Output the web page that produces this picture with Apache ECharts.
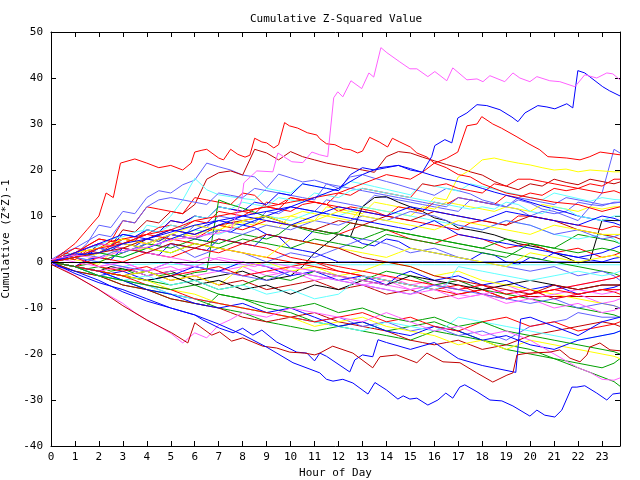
<!DOCTYPE html>
<html>
<head>
<meta charset="utf-8">
<script src="https://cdn.jsdelivr.net/npm/echarts@6/dist/echarts.min.js"></script>
<style>
  html, body { margin: 0; padding: 0; background: #fff; }
  #chart { width: 640px; height: 480px; }
</style>
</head>
<body>
<div id="chart"></div>
<script>
// half hour grid used by most traces (last sample at 23:45)
const halfHours = [0,0.5,1,1.5,2,2.5,3,3.5,4,4.5,5,5.5,6,6.5,7,7.5,8,8.5,9,9.5,10,10.5,11,11.5,12,12.5,13,13.5,14,14.5,15,15.5,16,16.5,17,17.5,18,18.5,19,19.5,20,20.5,21,21.5,22,22.5,23,23.5,23.75]

// colours of the old plotter
const RED = '#ff0000', DRED = '#c00000', BLUE = '#0000ff', SLATE = '#6060ff', MAG = '#ff60ff',
  CYAN = '#60ffff', GREEN = '#00a000', YEL = '#ffff00', BLK = '#000000'

// upper traces
const upSlate1 = [0.5,2,1.5,4, 8,7.5,11,10.5, 14,15.5,15,16.8, 17.8,21.5,20.7,20, 18.9,18.5,16.1,19.1, 18.3,17.4,17.8,17, 16,18.5,19,18.2, 17.5,16.8,16,15.3, 14.5,16,15.5,14.8, 13.5,12.8,12,13.5, 12.8,11.5,11,10, 9,12,15,24.5, 23.7]
const upDred1 = [0,0.5,2,1.5, 4,3.5,7,6.5, 9,8.5,11,10.5, 12.5,18,19.4,19.8, 18.9,24.5,23.7,22.2, 24,22.9,22.2,21.5, 21,20.5,20,19.5, 22.9,24,23.7,22.8, 22,21.2,20.5,19.6, 18.9,17.5,16.5,15.7, 17,16.5,18,17.3, 16.8,18,17.5,17, 17.4]
const upCyan1 = [0,1,0.5,2, 3,2.5,5,4.5, 8,7.5,10,13.5, 18.2,15.7,14.6,14.2, 13.8,13.5,16,15.5, 15,17,16.5,16, 15.5,17.5,17,16.4, 15.8,15.2,14.6,17, 16.5,16,15.4,17, 16.4,15.8,15.2,14.6, 14,13.5,15,14.4, 13.8,13.2,14,13.6, 13.5]
const upYel1 = [0,0.5,1,0.5, 2,1.5,3,4, 5,4.5,6,5.5, 7,6.5,8,7.5, 9,8.5,8,7.5, 10,9.5,9,12, 11.5,11,10.5,13, 12.5,12,11.5,11, 14,13.5,18.5,20, 22.2,22.6,22,21.5, 21.1,20.5,20,20.2, 19.6,20,19.8,19.6, 19.6]
const upRed1 = [0,1.5,1,3, 4,3.5,5,4.5, 7,6.5,9,8.5, 10,9.5,12,11.5, 11,10.5,13,12.5, 14,13.5,13,12.5, 15,14.5,16,15.5, 15,14.5,14,17, 16.5,17,16,15.5, 15,17,16.5,18, 18,17.5,17,16.5, 16,15.5,15,15.5, 15]
const upSlate2 = [0,-0.5,-1,0.5, 1,0.5,3,2.5, 4,3.5,6,5.5, 8,7.5,10,9.5, 9,8.5,11,10.5, 12,11.5,11,13.5, 13,12.5,12,14.5, 14,13.5,13,12.5, 12,11.5,11,13.5, 13,12.5,12,11.5, 10,11,10.5,11, 13,12.5,12.2,13, 13]
const upYel2 = [0,1,0.5,0, -0.5,2,3,2.5, 3,5,4.5,6, 5.5,7,6.5,9, 8.5,8,10,9.5, 10,11,10.5,10, 9.5,9,12,11.5, 11,10.5,10,12, 11.5,13,12.5,12, 11.5,11,12,11.5, 11,12.5,12,11.5, 11,12,11.5,12, 12]
const upBlk1 = [0,-0.5,-1,-1.5, -2,-1,-1.5,-2, -3,-2.5,-2,-3, -4,-3.5,-3,-2.5, -2,-3,-4,-3.5, -3,-1,2,4, 6,5.5,12,14, 14.2,13,12,11, 9.6,9,7.4,7, 6.5,5.9,5,4, 3.5,3,2,1, -0.2,0.4,9.1,9, 9]
const upRed2 = [0,2,1.5,3.5, 5,4.5,9,8.5, 12,11.5,11,10.5, 14,13.5,13,12.5, 15,14.5,12,11.5, 14,13.5,13,12.5, 11,12,11.5,11, 10,12,11.5,11, 13,12.5,14,13.5, 13,12.5,14.5,14, 15,14.5,16,15.5, 16,17,16.5,18, 18]
const upRed3 = [0,1,0.5,2.5, 3,4.5,5,5.5, 6,7.5,8,7.5, 9,8.5,11,10.5, 10,11.5,12,11.5, 11,12.5,13,12.5, 12,11.5,11,10.5, 10,9.5,9,8.5, 8,7.5,7,8.5, 9,8.5,8,10, 10,9.5,9,8.5, 8,7.5,7,7.8, 7.5]
const upSlate3 = [0,2,3,4.5, 6,5.5,9,8.5, 12,13.5,14,13.5, 13,12.5,15,14.5, 14,16,15.5,15, 14.5,14,13.5,17, 16.5,16,15.5,15, 14.5,14,13.5,13, 12.5,12,14,13.5, 13,12.5,12,14, 13.5,13,12.5,14, 13.5,13,12.5,12.8, 13]
const upBlue1 = [0,1,2,1.5, 4,3.5,6,5.5, 7,6.5,9,8.5, 10,9.5,12,11.5, 11,13,12.5,15, 14.5,17,16.5,16, 15.5,19,20.5,20, 20.5,21,20.3,19.5, 18.7,18,17.5,16.8, 16,15.2,14.5,13.8, 13,12.2,11.5,10.8, 10,9.5,9,8.5, 8]
const upCyan2 = [0,1.5,2,3, 3.5,5,5.5,6.5, 7,6.5,8,7.5, 10,9.5,12,11.5, 13,12.5,12,14, 13.5,13,15,14.5, 14,15.5,16,15.5, 15,14.5,14,13.5, 13,12.5,12,11.5, 12,11.5,13,12.5, 11,10.5,12,11.5, 10,9.5,9,10, 10]

// middle traces
const midBlue1 = [0,1,2,1.5, 3,2.5,4,3.5, 5,4.5,6,5.5, 5,4.5,7,6.5, 8,7.5,6,5.5, 5,4.5,7,6.5, 6,5.5,4,3.5, 5,4.5,3,2.5, 2,1.5,1,0.5, 2,1.5,0,-0.5, 1,0.5,2,1.5, 1,0.5,0,0.8, 1]
const midBlueFlat = [0,-0.5,-1,0.5, 1,0.5,3,2.5, 2,1.5,4,3.5, 3,2.5,5,4.5, 4,3.5,6,5.5, 3,2.5,2,1, 0,0,0,0, 0,0,0,0, 0,0,0,0, 0,0,0,0, 0,0,0,0, 0,0,0,0, 0]
const midCyanFlat = [0,0.5,1,0.5, 0,-0.5,-1,-0.5, -0.5,-0.3,-0.5,-0.6, -0.6,-0.6,-0.6,-0.6, -0.6,-0.6,-0.6,-0.6, -0.6,-0.6,-0.6,-0.6, -0.6,-0.6,-0.6,-0.6, -0.6,-0.6,-0.6,-0.6, -0.6,-0.6,-0.6,-0.6, -0.6,-0.6,-0.6,-0.6, -0.6,-0.6,-0.6,-0.6, -0.6,-0.6,-0.6,-0.6, -0.6]
const midDredFlat = [0,-0.5,-1,-1.5, -2,-2.5,-3,-2.5, -2,-3,-4,-3.5, -3,-4,-5,-4.5, -4,-5,-6,-5.5, -5,-4.5,-4,-5, -6,-5.5,-5,-6, -7,-6.5,-6,-7, -8,-7.5,-7,-6.5, -6,-7,-8,-7.5, -7.5,-7.5,-7.5,-7.5, -7.5,-7.5,-7.5,-7.5, -7.5]
const midRed1 = [0,1.5,3,2.5, 2,3.5,5,4.5, 4,5,6,5.5, 5,6.5,8,7.5, 7,8,9,8.5, 8,7.5,7,6.5, 6,7,8,7.5, 7,6,5,4.5, 4,5,6,5.5, 5,4,3,3.5, 4,3,2,2.5, 3,2,1,1.5, 2]
const midGreen1 = [0,-0.5,-1,-0.5, 0,1,2,3, 4,3.5,3,4, 5,4.5,4,5, 6,5.5,5,6, 8,7.5,7,6.5, 6,5.5,5,6, 7,6.5,6,5.5, 5,4.5,4,3.5, 3,4,5,4.5, 4,3.5,3,4.5, 6,5.5,5,4.5, 4]
const midGreen3 = [0,-0.5,-1,-1.5, -1,-2,-1.5,-2.5, -2,-3,-2.5,-3, -2.3,-2,13.5,12.5, 11.7,10.8,9.8,9, 8,7.2,6.5,6, 6.5,8.5,8,7.5, 7,6.5,6,5.5, 5,4.5,4,3.5, 3,2.5,2,1.5, 1,0.5,0,-0.5, -1,-1.5,-2,-2.5, -3]
const midMag1 = [0,-0.5,-1,-1.5, -2,-1.5,-1,-2, -3,-2.5,-2,-1.5, -1,-1.5,-2,-2.5, -3,-2.5,-2,-2.5, -1,-1.5,-2,-2.5, -3,-3.5,-4,-3.5, -3,-4,-5,-4.5, -4,-5,-6,-5.5, -5,-6,-7,-6.5, -6,-7,-8,-7.5, -7,-8,-9,-8.5, -8]
const midMag2 = [0,0.5,1,0, -1,-0.5,0,-1, -2,-1.5,-1,-2, -3,-2.5,-2,-1.5, -1,-2,-3,-2.5, -2,-3,-4,-3.5, -3,-4,-5,-4.5, -4,-5,-6,-5.5, -5,-4.5,-4,-5, -6,-5.5,-5,-6, -7,-6.5,-6,-5.5, -5,-4.5,-4,-3.5, -3]
const midSlate1 = [0,1,2,1.5, 1,2,3,2.5, 2,3,4,2.5, 1,2,3,2.5, 2,1,0,1, 2,1.5,1,2, 3,4,5,4.5, 4,3,2,2.5, 3,2,1,0.5, 0,-0.5,-1,-1.5, -2,-1.5,-1,-2, -3,-2.5,-2,-3, -4]
const midBlue2 = [0,-0.5,-1,-2, -3,-2.5,-2,-3, -4,-3.5,-3,-2, -1,-1.5,-2,-1, 0,-0.5,-1,-2, -3,-2.5,-2,-3, -4,-3.5,-3,-4, -5,-3,-2,-3, -4,-3.5,-3,-4, -5,-4.5,-4,-5, -6,-5.5,-5,-6, -7,-6.5,-6,-5.5, -5]
const midYel1 = [0,-0.5,-1,-1.5, -2,-2.5,-3,-2.5, -2,-3,-4,-3.5, -3,-4,-5,-3, -1,-0.5,0,-1, -2,-1.5,-1,-2, -3,-2.5,-2,-1, 0,-0.5,-1,-2, -3,-2.5,-2,-3, -4,-4.5,-5,-5.5, -6,-6.5,-7,-7.5, -8,-8.5,-9,-9.5, -10]
const midGreen2 = [0,-0.5,-1,-1.5, -2,-2.5,-3,-3.5, -4,-4.5,-5,-4.5, -4,-5,-6,-5.5, -5,-4,-3,-3.5, -4,-3,-2,-2.5, -3,-3.5,-4,-3, -2,-2.5,-3,-4, -5,-4.5,-4,-5, -6,-6.5,-7,-7.5, -8,-8.5,-9,-9.5, -10,-10.5,-11,-11.5, -12]
const midCyan1 = [0,0.5,1,1.5, 2,1.5,1,2, 3,4,5,6, 7,6.5,6,7, 8,9,10,9.5, 9,10,11,10.5, 10,11,12,11.5, 11,10.5,10,9.5, 9,8.5,8,7.5, 7,8,9,8.5, 8,7,6,5.5, 5,5.5,6,5, 4]
const midRed2 = [0,-0.5,-1,0, 1,0.5,0,1, 2,1.5,1,2, 3,2.5,2,3, 4,3.5,3,2, 1,0.5,0,-0.5, -1,-1.5,-2,-2.5, -3,-3.5,-4,-4.5, -5,-5.5,-6,-5.5, -5,-6,-7,-6.5, -6,-7,-8,-7.5, -7,-6.5,-6,-6.5, -7]
const midRed3 = [0,0.5,1,0, -1,-1.5,-2,-1.5, -1,-2,-3,-2.5, -2,-1.5,-1,-2, -3,-2.5,-2,-1.5, -1,-0.5,0,-1, -2,-2.5,-3,-3.5, -4,-4.5,-5,-5.5, -6,-6.5,-7,-6.5, -6,-7,-8,-7.5, -7,-6.5,-6,-5.5, -5,-4.5,-4,-3.5, -3]
const midDred1 = [0,1,2,3, 4,3.5,3,4, 5,6,7,6.5, 6,7,8,8.5, 9,9.5,10,9, 8,7.5,7,8, 9,8.5,8,9, 10,9.5,9,10, 11,10.5,10,9.5, 9,8.5,8,9, 10,9.5,9,8, 7,6.5,6,5.5, 5]
const midBlk1 = [0,-0.5,-1,-1.5, -2,-2.5,-3,-3.5, -4,-3.5,-3,-4, -5,-4.5,-4,-5, -6,-5.5,-5,-6, -7,-6,-5,-5.5, -6,-5,-4,-4.5, -5,-4,-3,-3.5, -4,-4.5,-5,-5.5, -6,-5.5,-5,-4.5, -4,-4.5,-5,-5.5, -6,-5.5,-5,-5, -5]
const midSlate2 = [0,0.5,1,2, 3,2.5,2,3, 4,5,6,5.5, 5,6,7,6.5, 6,7,8,7.5, 7,8,9,8.5, 8,9,10,9.5, 9,10,11,10.5, 10,9,8,7.5, 7,8,9,8.5, 8,7,6,6.5, 7,6,5,5.5, 6]
const midBlue3 = [0,0.5,1,1.5, 2,3,4,3.5, 3,4,5,6, 7,8,9,8.5, 8,9,10,11, 12,11.5,11,10.5, 10,9.5,9,8.5, 8,7.5,7,8, 9,7.5,6,5.5, 5,4.5,4,3.5, 3,2.5,2,1.5, 1,1.5,2,3, 3.5]
const midYel2 = [0,1,2,2.5, 3,4,5,4.5, 4,5,6,7, 8,7.5,7,8, 9,9.5,10,9, 8,8.5,9,10, 11,10.5,10,9.5, 9,8.5,8,7.5, 7,8,9,8.5, 8,7.5,7,6.5, 6,7,8,7.5, 7,6.5,6,6, 6]
const midMag3 = [0,1,2,3, 4,3.5,3,2.5, 2,1.5,1,0.5, 0,1,0.5,0, -0.5,-1,0,-0.5, -1,-1.5,-2,-2.5, -3,-3.5,-4,-4.5, -5,-5.5,-6,-5.5, -5,-6,-7,-7.5, -7,-6.5,-6,-7, -8,-7.5,-7,-6.5, -6,-6.5,-7,-6.5, -6]
const midRed4 = [0,1,2,3.5, 5,4.5,4,5, 6,5.5,5,4.5, 4,3.5,3,2.5, 2,1.5,1,0.5, 0,-0.5,-1,-1.5, -2,-2.5,-3,-3.5, -4,-4.5,-5,-5.5, -6,-5.5,-5,-6, -7,-7.5,-8,-7.5, -7,-6.5,-6,-6.5, -7,-6.5,-6,-6, -6]
const midCyan2 = [0,-0.5,-1,-1.5, -2,-3,-4,-3.5, -3,-4,-5,-4.5, -4,-5,-6,-5.5, -5,-6,-7,-6.5, -6,-7,-8,-7.5, -7,-5,-3,-3.5, -4,-4.5,-5,-5.5, -6,-5,-1,-1.5, -2,-2.5,-3,-3.5, -4,-3.5,-3,-2.5, -2,-2.5,-3,-2.5, -2]
const midSlate3 = [0,0.5,1,0.5, 0,-0.5,-1,-1.5, -2,-1,0,-0.5, -1,-1.5,-2,-2.5, -3,-3.5,-4,-3, -2,-2.5,-3,-3.5, -4,-4.5,-5,-5.5, -6,-6.5,-7,-6, -5,-5.5,-6,-6.5, -7,-7.5,-8,-8.5, -9,-8.5,-8,-9, -10,-9.5,-9,-9.5, -10]
const midBlue4 = [0,1,2,3, 4,5,6,5.5, 5,6,7,6.5, 6,7,8,9, 10,9.5,9,8.5, 8,9,10,11, 12,11.5,11,10.5, 10,11,12,11.5, 11,10.5,10,9.5, 9,10,11,10.5, 10,9.5,9,8.5, 8,9,10,9.5, 9]
const midGreen4 = [0,0.5,1,1.5, 2,1.5,1,2, 3,2.5,2,3, 4,3.5,3,4, 5,4.5,4,3.5, 3,4,5,4.5, 4,3.5,3,4.5, 6,5.5,5,4.5, 4,3.5,3,2.5, 2,1.5,1,2.5, 4,3.5,3,2.5, 2,2.5,3,2.5, 2]
const midYel3 = [0,0.5,1,1.5, 2,3,4,3.5, 3,2.5,2,3, 4,3.5,3,2.5, 2,1.5,1,3, 5,4.5,4,3.5, 3,2.5,2,1.5, 1,2,3,2.5, 2,1.5,1,0.5, 0,-0.5,-1,0.5, 2,1.5,1,0.5, 0,0.5,1,1.5, 1]
const midMag4 = [0,0.5,0,-0.5, -1,-0.5,0,-1, -2,-1,0,-0.5, -1,0,1,0.5, 0,-0.5,-1,-1.5, -2,-2.5,-3,-3.5, -4,-4.5,-5,-5.5, -6,-6.5,-7,-6.5, -6,-7,-8,-7.5, -7,-8,-9,-8.5, -8,-9,-10,-9.5, -9,-10,-11,-10.5, -10]
const midDred2 = [0,0.5,1,1.5, 2,2.5,3,2.5, 2,3,4,3.5, 3,4,5,4.5, 4,5,6,5.5, 5,4.5,4,3.5, 3,2,1,0.5, 0,-0.5,-1,-2, -3,-3.5,-4,-4.5, -5,-5.5,-6,-6.5, -7,-6,-5,-5.5, -6,-5.5,-5,-5, -5]

// lower traces
const lowGreen1 = [0,-0.5,-1,-2, -3,-3.5,-4,-5, -6,-7,-8,-8.5, -9,-9.5,-7,-7.5, -8,-9,-10,-10.5, -11,-12,-13,-13.5, -14,-14.5,-15,-15.5, -16,-16.5,-17,-16, -15,-15.5,-16,-16.5, -17,-17.5,-18,-18.5, -19,-20,-21,-22, -23,-24,-25,-26, -27]
const lowGreen2 = [0,-1,-2,-2.5, -3,-4,-5,-5.5, -6,-6.5,-7,-7.5, -8,-9,-10,-10.5, -11,-12,-13,-13.5, -14,-14.5,-15,-14.5, -14,-13.5,-13,-14, -15,-14.5,-14,-13.5, -13,-14,-15,-16, -17,-18,-19,-19.5, -20,-20.5,-21,-21.5, -22,-22.5,-23,-22, -21]
const lowDred1 = [0,-1,-2,-2.5, -3,-4,-5,-5.5, -6,-7,-8,-8.5, -9,-9.5,-10,-11, -12,-12.5,-13,-12.5, -12,-11.5,-11,-12, -13,-13.5,-14,-14.5, -15,-16,-17,-17.5, -18,-17.5,-17,-18, -19,-18.5,-18,-17, -16,-15.5,-15,-14.5, -14,-13.5,-13,-13.5, -14]
const lowSlate1 = [0,-0.5,-1,-1.5, -2,-3,-4,-4.5, -5,-6,-7,-7.5, -8,-8.5,-9,-9.5, -10,-10.5,-11,-11.5, -12,-12.5,-13,-12.5, -12,-13,-14,-13.5, -13,-14,-15,-14.5, -14,-15,-16,-15.5, -15,-16,-17,-15.5, -14,-13.5,-13,-12.5, -11,-11.5,-12,-12, -12]
const lowCyan1 = [0,-0.5,-1,-2, -3,-3.5,-4,-4.5, -5,-6,-7,-7.5, -8,-8.5,-9,-9.5, -10,-10.5,-11,-11.5, -12,-12.5,-13,-13.5, -14,-14.5,-15,-14, -13,-13.5,-14,-14.5, -15,-14,-12,-12.5, -13,-13.5,-14,-14.5, -15,-15.5,-16,-16.5, -17,-16.5,-16,-15.5, -15]
const lowYel1 = [0,-0.5,-1,-1.5, -2,-2.5,-3,-3.5, -4,-5,-6,-6.5, -7,-8,-9,-9.5, -10,-10.5,-11,-11.5, -12,-13,-14,-13.5, -13,-12.5,-12,-13, -14,-14.5,-15,-15.5, -16,-17,-18,-17.5, -17,-18,-19,-18, -17,-17.5,-18,-18.5, -19,-19.5,-20,-20.5, -21]
const lowBlue1 = [0,-0.5,-1,-1.5, -2,-3,-4,-5, -6,-6.5,-7,-8, -9,-9.5,-10,-9.5, -9,-10,-11,-10.5, -10,-11,-12,-13, -14,-13.5,-13,-14, -15,-15.5,-16,-15, -14,-14.5,-15,-16, -17,-16.5,-16,-17, -18,-18.5,-19,-18, -17,-16.5,-16,-15.5, -15]
const lowRed1 = [0,-0.5,-1,-1.5, -2,-2.5,-3,-4, -5,-5.5,-6,-7, -8,-8.5,-9,-9.5, -10,-10.5,-11,-11.5, -12,-12.5,-13,-12.5, -12,-11.5,-11,-12, -13,-12.5,-12,-13, -14,-14.5,-15,-14, -13,-12.5,-12,-13, -14,-13.5,-13,-14, -15,-14.5,-14,-13.5, -13]
const lowGreen3 = [0,-0.5,-1,-2, -3,-3.5,-4,-4.5, -5,-5.5,-6,-5.5, -5,-6,-7,-7.5, -8,-8.5,-9,-9.5, -10,-9.5,-9,-10, -11,-10.5,-10,-11, -12,-12.5,-13,-12.5, -12,-13,-14,-13.5, -13,-14,-15,-15.5, -16,-16.5,-17,-17.5, -18,-18.5,-19,-19.5, -20]
const lowMag1 = [0,-1.5,-3,-4.5, -6,-7.5,-9,-11, -12.6,-14,-15.5,-17.6, -15.4,-16.5,-13.7,-12.5, -11,-11.5,-12,-11, -10,-10.5,-11,-11.5, -12,-12.5,-13,-12, -11,-12,-13,-14, -15,-14.5,-14,-15, -16,-15.5,-15,-16, -17,-18.5,-20,-21.5, -23,-24,-25.5,-25.7, -25.2]

// outer traces, [hour, value] pairs read at their corners
const magTop = [[0,0.5],[1,1.5],[2,0.8],[3,2.5],[4,3.2],[5,4.8],[6,5.5],[7,6.3],[7.5,7],[7.96,13.5],[8.05,17.2],[8.59,19.8],[9.26,19.6],[9.47,23.7],[10.05,21.8],[10.51,21.6],[10.89,23.9],[11.22,23.3],[11.55,22.9],[11.8,35.7],[11.97,37],[12.18,35.9],[12.52,39.4],[12.97,37.7],[13.27,41.1],[13.47,40.2],[13.77,46.6],[14.02,45.5],[14.56,43.5],[14.98,42],[15.27,42],[15.73,40.3],[16.02,41.4],[16.52,39.4],[16.77,42.2],[17.36,39.6],[17.78,39.8],[18.03,39.2],[18.32,40.5],[18.94,39.2],[19.28,41.1],[19.57,40],[19.99,39.2],[20.28,40.3],[20.82,39.4],[21.24,39.2],[21.87,38.1],[22.28,40.7],[22.78,40],[23.2,41.1],[23.45,40.9],[23.75,39.6]]
const blueTop = [[0,0],[1,1.5],[2,2],[3,4],[4,5],[5,6.5],[6,8],[7,9],[8,10],[9,11],[10,12],[11,14],[12,16],[13,19],[13.7,20.5],[14.5,21],[15,20],[15.5,19.5],[15.89,22.9],[16.02,25.3],[16.44,26.6],[16.73,25.9],[16.98,31.3],[17.36,32.4],[17.78,34.2],[18.19,34],[18.74,33.1],[19.24,31.5],[19.49,30.5],[19.78,32.4],[20.32,34],[20.7,33.7],[21.03,33.3],[21.53,34.4],[21.78,33.5],[21.99,41.6],[22.28,41.1],[23.03,38.1],[23.32,37.2],[23.75,36.1]]
const redTop = [[0,0],[0.5,2],[1,4],[1.5,7],[2,10],[2.3,15],[2.6,14],[2.9,21.5],[3.5,22.4],[4,21.5],[4.5,20.5],[5,21],[5.5,20],[5.85,21.5],[6,23.9],[6.3,24.3],[6.5,24.5],[7,22.6],[7.2,22.2],[7.5,24.5],[7.8,23.4],[8.1,22.8],[8.3,23.2],[8.5,26.9],[8.8,26.1],[9,25.9],[9.3,24.8],[9.5,25.5],[9.75,30.3],[9.95,29.6],[10.3,29.1],[10.7,28.1],[11.1,27.6],[11.22,26.8],[11.5,25.7],[11.85,25.5],[12.2,24.6],[12.5,24.4],[12.8,23.7],[13,24.1],[13.3,27.1],[13.7,26.1],[14.05,25],[14.25,26.9],[14.56,26.1],[15,25],[15.27,23.7],[15.7,22.8],[16,21.5],[16.5,20.5],[17,19],[17.5,18.5],[18,17],[19,15],[20,14],[21,13],[22,12.5],[23,11],[23.75,12]]
const redPeak = [[0,0],[1,1],[2,3],[3,4],[4,6],[5,7],[6,9],[7,10],[8,11],[9,12],[10,13],[11,14],[12,15],[13,17],[14,19],[15,18],[15.5,19.5],[16,21.5],[16.5,22.5],[16.98,23.9],[17.36,29.6],[17.78,30],[17.98,31.6],[18.44,30],[18.8,29.1],[19.45,27.2],[19.87,25.9],[20.4,24.4],[20.74,22.9],[21.53,22.6],[22.08,22.2],[22.49,22.9],[22.92,23.9],[23.75,23.3]]
const dredLow = [[0,-0.5],[1,-3],[2,-6],[3,-9.5],[4,-12.6],[5.04,-15.4],[5.71,-17.6],[6,-13.2],[6.71,-15.9],[7.04,-15.2],[7.54,-17.2],[8,-16.5],[8.84,-18.3],[9.42,-18.7],[9.97,-19.6],[10.59,-19.8],[11.01,-20.2],[11.22,-19.8],[11.76,-18.3],[12.6,-19.8],[13.43,-23],[13.73,-20.6],[14.43,-20.2],[15.27,-21.9],[15.69,-19.8],[16.36,-21.7],[17.07,-21.9],[17.77,-24.1],[18.44,-26.1],[19.03,-24.6],[19.28,-24.1],[19.45,-20.2],[19.91,-19.8],[20.82,-19.6],[21.24,-19.1],[21.66,-20.9],[22.08,-21.7],[22.37,-20.2],[22.49,-18.5],[22.91,-17.6],[23.33,-19.1],[23.75,-19.3]]
const blueBottom = [[0,0],[1,-2.5],[2,-4.5],[3,-6],[4,-8],[5,-10],[6,-11.5],[7,-13.5],[8,-15.8],[9,-18.5],[10.1,-21.9],[11.22,-24.1],[11.5,-25.5],[11.77,-25.9],[12.18,-25.5],[12.6,-26.3],[13.23,-28.7],[13.52,-26.2],[14,-27.8],[14.48,-29.8],[14.7,-29.1],[14.98,-29.8],[15.27,-29.6],[15.73,-31.1],[16.15,-30],[16.48,-28.5],[16.77,-29.6],[17.06,-27.2],[17.27,-26.7],[17.78,-28.2],[18.32,-30],[18.82,-30.2],[19.28,-31.3],[19.99,-33.5],[20.28,-32.2],[20.61,-33.3],[21.03,-33.7],[21.32,-32.2],[21.74,-27.2],[21.95,-27.2],[22.28,-26.9],[22.78,-28.5],[23.2,-30],[23.45,-28.7],[23.75,-28.5]]
const blueLow2 = [[0,-0.5],[1,-2],[2,-4],[3,-6.5],[4,-8.5],[5,-10],[6,-11.5],[6.34,-12.6],[7.04,-14.4],[7.6,-15.4],[8,-14.4],[8.43,-15.9],[8.8,-14.8],[9.42,-17.4],[10.26,-19.6],[10.68,-19.8],[11,-21.5],[11.22,-19.8],[11.5,-20.5],[12.47,-23.9],[12.68,-21.3],[13,-20.2],[13.43,-20.6],[13.65,-16.9],[14,-17.5],[15,-19],[16,-17.5],[17,-21],[18,-22.5],[19.4,-24],[19.6,-12.4],[20,-12],[21,-14],[22,-16],[23,-13],[23.75,-12]]

const gridTraces = [
  [upSlate1, SLATE], [upDred1, DRED], [upCyan1, CYAN], [upYel1, YEL], [upRed1, RED], [upSlate2, SLATE],
  [upYel2, YEL], [upBlk1, BLK], [upRed2, RED], [upRed3, RED], [upSlate3, SLATE], [upBlue1, BLUE], [upCyan2, CYAN],
  [midBlue1, BLUE], [midBlueFlat, BLUE], [midCyanFlat, CYAN], [midDredFlat, DRED], [midRed1, RED], [midGreen1, GREEN],
  [midGreen3, GREEN], [midMag1, MAG], [midMag2, MAG], [midSlate1, SLATE], [midBlue2, BLUE], [midYel1, YEL],
  [midGreen2, GREEN], [midCyan1, CYAN], [midRed2, RED], [midRed3, RED], [midDred1, DRED], [midBlk1, BLK],
  [midSlate2, SLATE], [midBlue3, BLUE], [midYel2, YEL], [midMag3, MAG], [midRed4, RED], [midCyan2, CYAN],
  [midSlate3, SLATE], [midBlue4, BLUE], [midGreen4, GREEN], [midYel3, YEL], [midMag4, MAG], [midDred2, DRED],
  [lowGreen1, GREEN], [lowGreen2, GREEN], [lowDred1, DRED], [lowSlate1, SLATE], [lowCyan1, CYAN], [lowYel1, YEL],
  [lowBlue1, BLUE], [lowRed1, RED], [lowGreen3, GREEN], [lowMag1, MAG]
]
const pairTraces = [
  [blueLow2, BLUE], [dredLow, DRED], [blueBottom, BLUE], [redPeak, RED], [redTop, RED], [blueTop, BLUE], [magTop, MAG]
]

const FONT = 'DejaVu Sans Mono'

let chart = echarts.init(document.getElementById('chart'))

function lineSeries(data, color) {
  return {
    type: 'line',
    data: data,
    showSymbol: false,
    lineStyle: { color: color, width: 1 },
    silent: true,
    animation: false,
  }
}

let series = []
gridTraces.forEach((item) => {
  let pts = []
  halfHours.forEach((h, i) => {
    if (item[0][i] !== undefined) pts.push([h, item[0][i]])
  })
  series.push(lineSeries(pts, item[1]))
})
pairTraces.forEach((item) => {
  series.push(lineSeries(item[0], item[1]))
})
// zero axis
series[0].markLine = {
  silent: true,
  symbol: 'none',
  label: { show: false },
  lineStyle: { color: '#000', type: 'solid', width: 1 },
  data: [{ yAxis: 0 }],
}

const frameLine = { show: true, onZero: false, lineStyle: { color: '#000' } }
const frameTick = { inside: true, length: 5, lineStyle: { color: '#000' } }

let option = {
  animation: false,
  title: {
    text: 'Cumulative Z-Squared Value',
    left: 245,
    top: 9,
    textStyle: { fontFamily: FONT, fontSize: 11, fontWeight: 'normal', color: '#000' },
  },
  grid: { left: 51, right: 20, top: 32, bottom: 34, outerBoundsMode: 'none' },
  xAxis: [
    {
      type: 'value',
      min: 0,
      max: 23.75,
      interval: 1,
      name: 'Hour of Day',
      nameLocation: 'middle',
      nameGap: 22,
      nameTextStyle: { fontFamily: FONT, fontSize: 11, color: '#000' },
      axisLine: frameLine,
      axisTick: frameTick,
      axisLabel: {
        fontFamily: FONT, fontSize: 11, color: '#000', margin: 6,
        showMaxLabel: false,
        formatter: (v) => (Number.isInteger(v) ? String(v) : ''),
      },
      splitLine: { show: false },
    },
    {
      type: 'value',
      position: 'top',
      min: 0,
      max: 23.75,
      interval: 1,
      axisLine: frameLine,
      axisTick: frameTick,
      axisLabel: { show: false },
      splitLine: { show: false },
    },
  ],
  yAxis: [
    {
      type: 'value',
      min: -40,
      max: 50,
      interval: 10,
      name: 'Cumulative (Z*Z)-1',
      nameLocation: 'middle',
      nameGap: 39,
      nameRotate: 90,
      nameTextStyle: { fontFamily: FONT, fontSize: 11, color: '#000' },
      axisLine: frameLine,
      axisTick: frameTick,
      axisLabel: { fontFamily: FONT, fontSize: 11, color: '#000', margin: 8 },
      splitLine: { show: false },
    },
    {
      type: 'value',
      position: 'right',
      min: -40,
      max: 50,
      interval: 10,
      axisLine: frameLine,
      axisTick: frameTick,
      axisLabel: { show: false },
      splitLine: { show: false },
    },
  ],
  series: series,
}
chart.setOption(option)
</script>
</body>
</html>
